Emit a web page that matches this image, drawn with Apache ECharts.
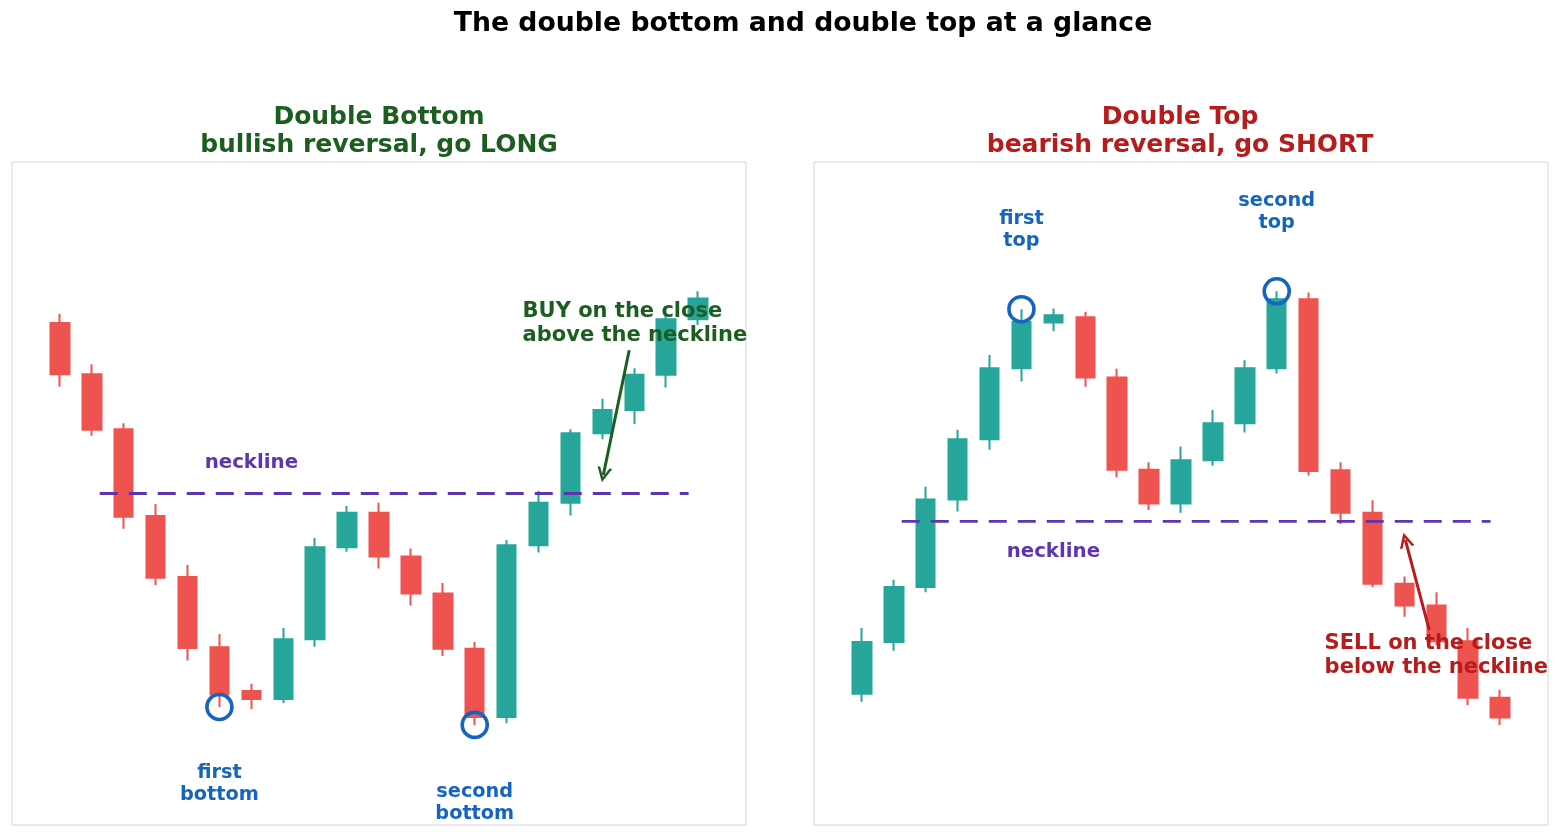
<!DOCTYPE html>
<html>
<head>
<meta charset="utf-8">
<script src="https://cdn.jsdelivr.net/npm/echarts@6/dist/echarts.min.js"></script>
<style>
  html, body { margin: 0; padding: 0; background: #fff; }
  #chart { width: 1559px; height: 837px; }
</style>
</head>
<body>
<div id="chart"></div>
<script>
// candles are [open, close, low, high], one per session
const bottomCandles = [
  [75.7, 68.0, 66.1, 77.1], [68.0, 59.6, 58.7, 69.5], [59.7, 46.5, 44.7, 60.6],
  [46.6, 37.3, 36.2, 48.4], [37.4, 26.7, 24.8, 39.2], [26.8, 19.7, 17.8, 28.8],
  [20.2, 19.0, 17.5, 21.3], [19.0, 28.0, 18.4, 29.7], [28.0, 41.9, 26.9, 43.3],
  [41.9, 47.1, 41.2, 48.1], [47.1, 40.5, 38.7, 48.6], [40.5, 34.9, 33.1, 41.7],
  [34.9, 26.6, 25.5, 36.5], [26.6, 16.3, 15.1, 27.6], [16.3, 42.2, 15.4, 43.0],
  [42.2, 48.6, 41.1, 50.4], [48.6, 59.1, 46.7, 59.7], [59.1, 62.6, 58.2, 64.3],
  [62.6, 67.9, 60.5, 68.9], [67.9, 76.3, 66.0, 77.2], [76.3, 79.4, 75.4, 80.5]
];
const topCandles = [
  [19.8, 27.6, 18.6, 29.7], [27.6, 35.9, 26.3, 37.0], [35.9, 49.1, 35.1, 51.0],
  [49.1, 58.2, 47.3, 59.6], [58.2, 68.9, 56.6, 70.9], [68.9, 75.9, 66.9, 77.8],
  [75.8, 76.9, 74.5, 77.9], [76.6, 67.5, 66.1, 77.4], [67.5, 53.6, 52.4, 68.8],
  [53.6, 48.5, 47.5, 54.7], [48.5, 55.0, 47.1, 57.1], [55.0, 60.6, 54.2, 62.6],
  [60.6, 68.9, 59.2, 70.1], [68.9, 79.3, 68.1, 80.5], [79.3, 53.4, 52.7, 80.3],
  [53.5, 47.1, 45.4, 54.7], [47.1, 36.4, 35.9, 49.0], [36.4, 33.1, 31.4, 37.5],
  [33.1, 27.7, 27.1, 35.1], [27.7, 19.2, 18.1, 29.7], [19.2, 16.2, 15.1, 20.4]
];

const bottomNeckline = 50.0;
const topNeckline = 45.8;
const necklineSpan = [1.25, 19.7];

// circled extremes: [session, price]
const bottomPoints = [[5, 17.8], [13, 15.1]];
const topPoints = [[5, 77.8], [13, 80.5]];

// text notes: [session, price, text]
const bottomPointNotes = [[5, 6.2, 'first\nbottom'], [13, 3.3, 'second\nbottom']];
const topPointNotes = [[5, 89.7, 'first\ntop'], [13, 92.5, 'second\ntop']];
const bottomNeckNote = [6, 54.6, 'neckline'];
const topNeckNote = [6, 41.2, 'neckline'];
const bottomSignalNote = [14.5, 75.7, 'BUY on the close\nabove the neckline'];
const topSignalNote = [14.5, 25.5, 'SELL on the close\nbelow the neckline'];

// signal arrows: [from, to]
const bottomArrow = [[17.84, 71.6], [17.03, 52.8]];
const topArrow = [[17.78, 29.4], [17.03, 43.0]];

const UP = '#26a69a', DOWN = '#ef5350';
const PURPLE = '#5e35b1', BLUE = '#1565c0';
const GREEN_TXT = '#1b5e20', RED_TXT = '#b71c1c';
const FONT = 'DejaVu Sans';

const chart = echarts.init(document.getElementById('chart'));

function panelSeries(idx, candles, neck, points, pointNotes, neckNote, signalNote, arrow, signalColor) {
  const axes = { xAxisIndex: idx, yAxisIndex: idx };
  return [
    {
      ...axes,
      type: 'candlestick',
      data: candles.map((c, i) => [i, ...c]),
      barWidth: 19,
      itemStyle: { color: UP, color0: DOWN, borderColor: UP, borderColor0: DOWN, borderWidth: 2 },
      z: 2
    },
    {
      ...axes,
      type: 'line',
      data: [[necklineSpan[0], neck], [necklineSpan[1], neck]],
      symbol: 'none',
      lineStyle: { color: PURPLE, width: 2.8, type: [18, 11] },
      z: 3
    },
    {
      ...axes,
      type: 'scatter',
      data: points,
      symbol: 'circle',
      symbolSize: 25,
      itemStyle: { color: 'rgba(0,0,0,0)', borderColor: BLUE, borderWidth: 3.6, opacity: 1 },
      z: 5
    },
    {
      ...axes,
      type: 'scatter',
      symbolSize: 0,
      itemStyle: { opacity: 1 },
      z: 6,
      data: [
        ...pointNotes.map(n => ({ value: [n[0], n[1]], name: n[2],
          label: { color: BLUE, align: 'center', lineHeight: 22 } })),
        { value: [neckNote[0], neckNote[1]], name: neckNote[2],
          label: { color: PURPLE, align: 'center', lineHeight: 22, fontSize: 19.8 } },
        { value: [signalNote[0], signalNote[1]], name: signalNote[2],
          label: { color: signalColor, align: 'left', lineHeight: 24, fontSize: 21 } }
      ],
      label: {
        show: true, position: 'inside', formatter: p => p.name,
        fontFamily: FONT, fontWeight: 'bold', fontSize: 19.3, verticalAlign: 'middle'
      }
    },
    {
      ...axes,
      type: 'line',
      data: [],
      markLine: {
        silent: true,
        animation: false,
        symbol: ['none', 'path://M0,12 L6,0 L12,12 L9.8,12 L6,4.4 L2.2,12 Z'],
        symbolSize: 15,
        label: { show: false },
        lineStyle: { color: signalColor, width: 3, type: 'solid' },
        data: [[{ coord: arrow[0] }, { coord: arrow[1] }]]
      }
    }
  ];
}

const grids = [
  { left: 12, top: 162, width: 734, height: 663 },
  { left: 814, top: 162, width: 734, height: 663 }
].map(g => ({ ...g, show: true, borderColor: '#d6d6d6', borderWidth: 1, backgroundColor: '#fff' }));

chart.setOption({
  animation: false,
  backgroundColor: '#fff',
  title: [
    {
      text: 'The double bottom and double top at a glance',
      left: 798, top: 6, textAlign: 'center',
      textStyle: { fontFamily: FONT, fontSize: 26.7, fontWeight: 'bold', color: '#000' }
    },
    {
      text: 'Double Bottom\nbullish reversal, go LONG',
      left: 374, top: 98, textAlign: 'center',
      textStyle: { fontFamily: FONT, fontSize: 25, fontWeight: 'bold', color: GREEN_TXT, lineHeight: 28 }
    },
    {
      text: 'Double Top\nbearish reversal, go SHORT',
      left: 1175, top: 98, textAlign: 'center',
      textStyle: { fontFamily: FONT, fontSize: 25, fontWeight: 'bold', color: RED_TXT, lineHeight: 28 }
    }
  ],
  grid: grids,
  xAxis: [0, 1].map(i => ({ type: 'value', gridIndex: i, min: -1.5, max: 21.5, show: false })),
  yAxis: [0, 1].map(i => ({ type: 'value', gridIndex: i, min: 0, max: 100, show: false })),
  series: [
    ...panelSeries(0, bottomCandles, bottomNeckline, bottomPoints, bottomPointNotes,
      bottomNeckNote, bottomSignalNote, bottomArrow, GREEN_TXT),
    ...panelSeries(1, topCandles, topNeckline, topPoints, topPointNotes,
      topNeckNote, topSignalNote, topArrow, RED_TXT)
  ]
});
</script>
</body>
</html>
